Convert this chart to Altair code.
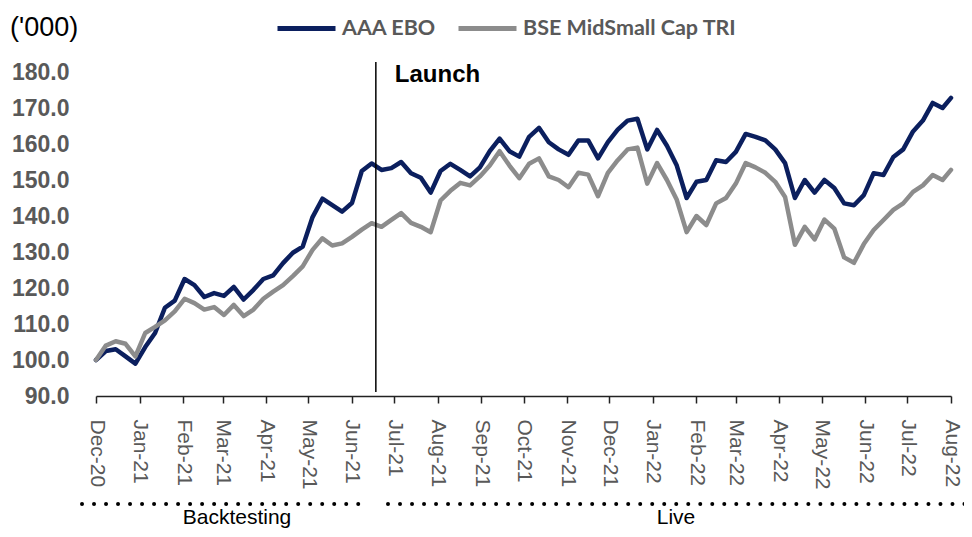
import altair as alt
import pandas as pd

# ---- data ----
dates = list(pd.date_range("2020-12-01", periods=87, freq="7D").strftime("%Y-%m-%d")) + ["2022-08-01"]

ebo = [100.0, 102.5, 103.0, 101.0, 99.0, 103.6, 107.5, 114.5, 116.5, 122.5,
       120.8, 117.5, 118.6, 117.8, 120.3, 116.8, 119.5, 122.5, 123.5, 126.9,
       129.8, 131.5, 139.7, 144.8, 143.0, 141.2, 143.6, 152.5, 154.6, 152.8,
       153.3, 155.0, 151.9, 150.6, 146.5, 152.5, 154.5, 152.8, 151.0, 153.5,
       158.0, 161.5, 158.0, 156.5, 162.0, 164.5, 160.5, 158.5, 157.0, 161.0,
       161.0, 156.0, 160.5, 164.0, 166.5, 167.0, 158.5, 163.9, 159.5, 154.0,
       145.0, 149.5, 150.0, 155.5, 155.0, 157.8, 162.8, 162.0, 161.0, 158.5,
       154.7, 145.0, 150.0, 146.5, 150.0, 147.8, 143.5, 143.0, 145.8, 151.9,
       151.4, 156.4, 158.5, 163.5, 166.5, 171.4, 170.0, 172.8]

bse = [100.0, 104.0, 105.2, 104.5, 101.0, 107.5, 109.2, 111.0, 113.5, 117.0,
       115.8, 114.0, 114.7, 112.5, 115.3, 112.2, 114.0, 117.0, 119.0, 120.8,
       123.3, 126.0, 130.6, 133.8, 131.8, 132.4, 134.2, 136.2, 138.0, 137.0,
       138.9, 140.8, 138.1, 137.0, 135.5, 144.3, 147.0, 149.2, 148.5, 151.0,
       154.0, 158.0, 154.0, 150.5, 154.5, 156.0, 151.0, 150.0, 148.0, 152.0,
       151.5, 145.5, 152.0, 155.5, 158.5, 159.0, 149.0, 154.7, 150.0, 144.5,
       135.5, 140.0, 137.5, 143.5, 145.0, 149.0, 154.7, 153.5, 152.0, 149.5,
       145.3, 132.0, 137.0, 133.5, 139.0, 136.5, 128.5, 127.0, 132.2, 136.1,
       138.9, 141.7, 143.5, 146.7, 148.5, 151.4, 150.0, 152.8]

series_names = ["AAA EBO", "BSE MidSmall Cap TRI"]
series_colors = ["#0b1f5e", "#8c8c8c"]
y_ticks = [90, 100, 110, 120, 130, 140, 150, 160, 170, 180]
launch_date = ["2021-06-18"]

df = pd.DataFrame({
    "date": dates * 2,
    "value": ebo + bse,
    "series": [series_names[0]] * len(ebo) + [series_names[1]] * len(bse),
})

month_ticks = [alt.DateTime(year=d.year, month=d.month, date=1, utc=True)
               for d in pd.date_range("2020-12-01", "2022-08-01", freq="MS")]

x_scale = alt.Scale(type="utc",
                    domain=[alt.DateTime(year=2020, month=12, date=1, utc=True),
                            alt.DateTime(year=2022, month=8, date=1, utc=True)])
y_scale = alt.Scale(domain=[90, 180], nice=False, zero=False)

x_axis = alt.Axis(values=month_ticks, format="%b-%y", labelAngle=90,
                  labelFont="Liberation Sans", labelFontSize=21, labelColor="#595959",
                  labelPadding=16, tickSize=7, tickColor="#222222", tickWidth=1.5,
                  domainColor="#222222", domainWidth=1.5, grid=False,
                  labelOverlap=False, labelFlush=False)

lines = alt.Chart(df).mark_line(strokeWidth=4.5, strokeJoin="round", strokeCap="round").encode(
    x=alt.X("date:T", scale=x_scale, title=None, axis=x_axis),
    y=alt.Y("value:Q", scale=y_scale, title=None,
            axis=alt.Axis(values=y_ticks, format=".1f", domain=False, ticks=False, tickSize=0,
                          grid=False, labelFont="Liberation Sans", labelFontWeight="bold",
                          labelFontSize=23, labelColor="#595959", labelPadding=27,
                          labelOverlap=False, tickCount=10)),
    color=alt.Color("series:N",
                    scale=alt.Scale(domain=series_names, range=series_colors),
                    legend=alt.Legend(orient="none", legendX=179, legendY=-75, direction="horizontal",
                                      title=None, symbolType="stroke", symbolSize=3364,
                                      symbolStrokeWidth=5, labelFont="Lato", labelFontWeight="bold",
                                      labelFontSize=21.5, labelColor="#595959", columnPadding=12,
                                      labelOffset=4, padding=0, labelLimit=0)),
)

launch_df = pd.DataFrame({"date": launch_date, "label": ["Launch"]})

launch_rule = alt.Chart(launch_df).mark_rule(color="black", strokeWidth=1.5).encode(
    x=alt.X("date:T", scale=x_scale, title=None, axis=x_axis),
    y=alt.value(-10),
    y2=alt.value(320),
)

launch_text = alt.Chart(launch_df).mark_text(
    align="left", baseline="middle", dx=19, font="Liberation Sans", fontWeight="bold",
    fontSize=24, color="black"
).encode(
    x=alt.X("date:T", scale=x_scale, title=None, axis=x_axis),
    y=alt.value(3),
    text="label:N",
)

note_df = pd.DataFrame({"t": ["('000)"]})
unit_text = alt.Chart(note_df).mark_text(
    align="left", baseline="middle", font="Liberation Sans", fontSize=27, color="black"
).encode(x=alt.value(-86), y=alt.value(-44), text="t:N")

phase_df = pd.DataFrame({"t": ["Backtesting", "Live"]})
back_dots = alt.Chart(phase_df.iloc[[0]]).mark_rule(
    color="black", strokeWidth=4, strokeDash=[0.01, 12], strokeCap="round"
).encode(x=alt.value(-14), x2=alt.value(266), y=alt.value(432))
live_dots = alt.Chart(phase_df.iloc[[1]]).mark_rule(
    color="black", strokeWidth=4, strokeDash=[0.01, 12], strokeCap="round"
).encode(x=alt.value(292), x2=alt.value(872), y=alt.value(432))

back_text = alt.Chart(phase_df.iloc[[0]]).mark_text(
    align="center", baseline="alphabetic", font="Liberation Sans", fontSize=21, color="black"
).encode(x=alt.value(141), y=alt.value(452), text="t:N")
live_text = alt.Chart(phase_df.iloc[[1]]).mark_text(
    align="center", baseline="alphabetic", font="Liberation Sans", fontSize=21, color="black"
).encode(x=alt.value(580), y=alt.value(452), text="t:N")

chart = alt.layer(
    lines, launch_rule, launch_text, unit_text, back_dots, live_dots, back_text, live_text
).properties(
    width=855, height=324,
    background="white",
    autosize=alt.AutoSizeParams(type="none"),
    padding={"left": 88, "top": 64, "right": 13, "bottom": 133},
).configure_view(stroke=None).configure_axisY(labelOverlap=False)

chart.save("out.html", embed_options={"renderer": "svg", "actions": False})
